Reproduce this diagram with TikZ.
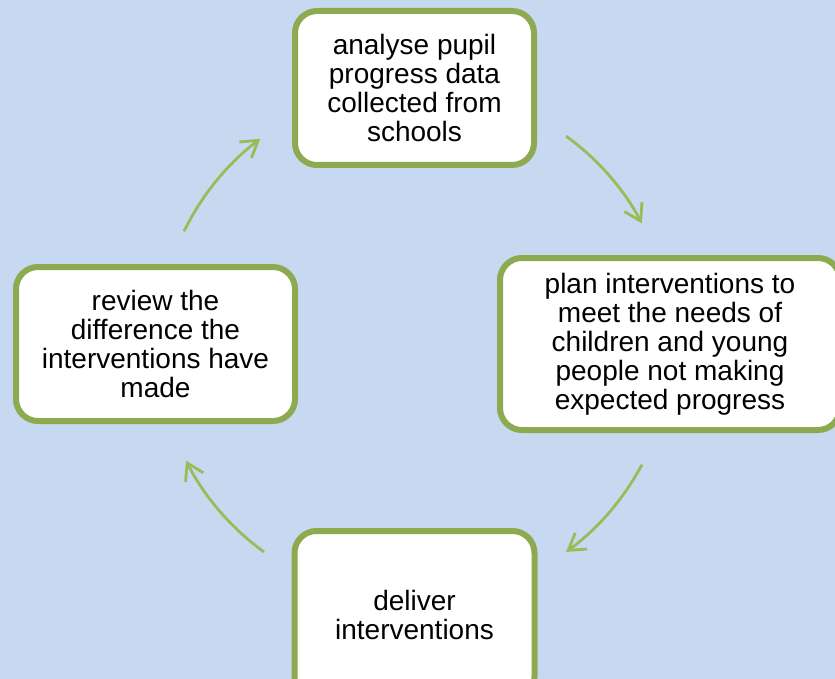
\documentclass[tikz,border=0pt]{standalone}
\usepackage{fontspec}
\setmainfont{Liberation Sans}
\usetikzlibrary{arrows.meta}
\definecolor{bgblue}{HTML}{C6D9F1}
\definecolor{boxgreen}{HTML}{8EAA50}
\definecolor{arrowgreen}{HTML}{9BBB59}
\begin{document}
\begin{tikzpicture}[x=1pt,y=1pt,
  stepbox/.style={draw=boxgreen, line width=6pt, fill=white, rounded corners=22pt,
    align=center, font=\fontsize{28}{29}\selectfont, inner sep=0pt},
  cyclearrow/.style={draw=arrowgreen, line width=2.8pt,
    -{Straight Barb[length=16pt,width=20pt]}}]
\path[use as bounding box] (0,0) rectangle (835,-679);
\clip (0,0) rectangle (835,-679);
\fill[bgblue] (0,0) rectangle (835,-679);

\node[stepbox, minimum width=239pt, minimum height=154pt] (analyse) at (414.5,-88)
  {analyse pupil\\progress data\\collected from\\schools};
\node[stepbox, minimum width=340pt, minimum height=172pt] (plan) at (670,-344)
  {plan interventions to\\meet the needs of\\children and young\\people not making\\expected progress};
\node[stepbox, minimum width=240pt, minimum height=168pt] (deliver) at (414.5,-615)
  {deliver\\interventions};
\node[stepbox, minimum width=279pt, minimum height=154pt] (review) at (155.5,-344)
  {review the\\difference the\\interventions have\\made};

\coordinate (hub) at (415,-344);
\path (hub) ++(54:257) coordinate (a1);
\path (hub) ++(-28:257) coordinate (a2);
\path (hub) ++(-126:257) coordinate (a3);
\path (hub) ++(154:257) coordinate (a4);

\draw[cyclearrow] (a1) arc[start angle=54, end angle=28, radius=257];
\draw[cyclearrow] (a2) arc[start angle=-28, end angle=-54, radius=257];
\draw[cyclearrow] (a3) arc[start angle=-126, end angle=-153, radius=257];
\draw[cyclearrow] (a4) arc[start angle=154, end angle=127, radius=257];
\end{tikzpicture}
\end{document}
